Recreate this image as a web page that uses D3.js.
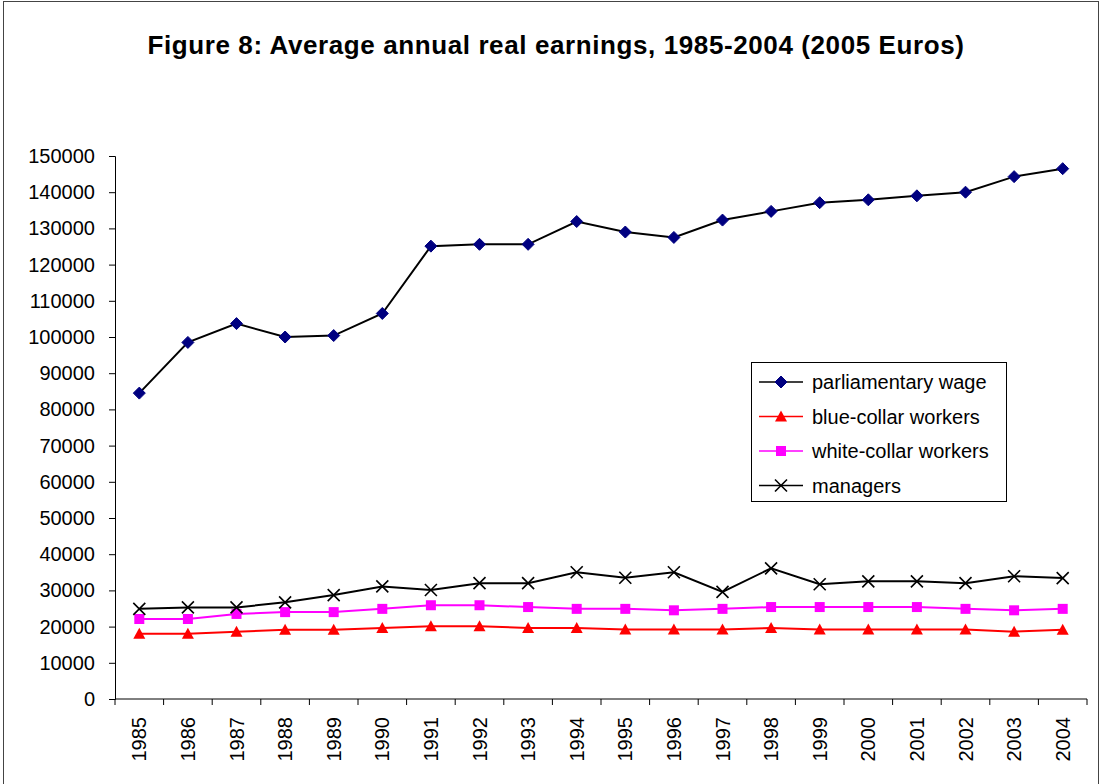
<!DOCTYPE html>
<html>
<head>
<meta charset="utf-8">
<script src="https://cdn.jsdelivr.net/npm/d3@7"></script>
<style>
  body { margin: 0; background: #fff; }
  text { font-family: Arial, "Liberation Sans", sans-serif; }
</style>
</head>
<body>
<script>
var years = ["1985", "1986", "1987", "1988", "1989", "1990", "1991", "1992", "1993", "1994",
             "1995", "1996", "1997", "1998", "1999", "2000", "2001", "2002", "2003", "2004"];

var parliamentary = [84500, 98500, 103700, 100000, 100400, 106500, 125100, 125600, 125600, 131900,
                     129000, 127500, 132300, 134700, 137100, 137900, 139000, 140000, 144300, 146500];
var blueCollar = [18000, 18000, 18600, 19100, 19100, 19600, 20100, 20100, 19600, 19600,
                  19200, 19200, 19200, 19600, 19200, 19200, 19200, 19200, 18600, 19100];
var whiteCollar = [22100, 22100, 23500, 24000, 24000, 24900, 25900, 25900, 25400, 24900,
                   24900, 24500, 24900, 25400, 25400, 25400, 25400, 24900, 24500, 24900];
var managers = [24900, 25300, 25300, 26700, 28700, 31100, 30100, 32000, 32000, 35000,
                33500, 35000, 29600, 36100, 31700, 32500, 32500, 32000, 33900, 33400];

var yTicks = d3.range(0, 150001, 10000);

var series = [
  {name: "parliamentary wage", values: parliamentary, line: "#000", fill: "#000080", symbol: "diamond"},
  {name: "blue-collar workers", values: blueCollar, line: "#ff0000", fill: "#ff0000", symbol: "triangle"},
  {name: "white-collar workers", values: whiteCollar, line: "#ff00ff", fill: "#ff00ff", symbol: "square"},
  {name: "managers", values: managers, line: "#000", fill: "none", symbol: "cross"}
];

var width = 1104, height = 784;
var plotLeft = 115, plotRight = 1087, plotTop = 156, plotBottom = 699;

var svg = d3.select("body").append("svg")
    .attr("width", width)
    .attr("height", height);

// outer frame
svg.append("rect")
    .attr("x", 3.5).attr("y", 1.5)
    .attr("width", 1095).attr("height", 800)
    .attr("fill", "none")
    .attr("stroke", "#444")
    .attr("stroke-width", 1);

svg.append("text")
    .attr("x", 556)
    .attr("y", 54)
    .attr("text-anchor", "middle")
    .style("font-size", "26px")
    .style("font-weight", "bold")
    .style("letter-spacing", "0.6px")
    .text("Figure 8:  Average annual real earnings, 1985-2004 (2005 Euros)");

var x = d3.scaleBand().domain(years).range([plotLeft, plotRight]).padding(0);
var y = d3.scaleLinear().domain([0, 150000]).range([plotBottom, plotTop]);

// y axis
var yAxis = svg.append("g")
    .attr("transform", "translate(" + plotLeft + ",0)")
    .call(d3.axisLeft(y).tickValues(yTicks).tickSize(6).tickPadding(14).tickFormat(d3.format("d")));
yAxis.selectAll("text").style("font-size", "20px").attr("fill", "#000");
yAxis.selectAll("line, path").attr("stroke", "#000");

// x axis: ticks on category boundaries
var xg = svg.append("g").attr("transform", "translate(0," + plotBottom + ")");
xg.append("line")
    .attr("x1", plotLeft).attr("x2", plotRight)
    .attr("stroke", "#000");
xg.selectAll(".tk")
    .data(years.concat(["end"]))
  .enter().append("line")
    .attr("x1", function(d, i) { return plotLeft + i * x.step(); })
    .attr("x2", function(d, i) { return plotLeft + i * x.step(); })
    .attr("y1", 0).attr("y2", 6)
    .attr("stroke", "#000");
xg.selectAll(".lab")
    .data(years)
  .enter().append("text")
    .attr("transform", function(d) {
      return "translate(" + (x(d) + x.bandwidth() / 2 + 7) + ",18)rotate(-90)";
    })
    .attr("text-anchor", "end")
    .style("font-size", "20px")
    .text(function(d) { return d; });

var cx = function(i) { return x(years[i]) + x.bandwidth() / 2; };

var line = d3.line()
    .x(function(d, i) { return cx(i); })
    .y(function(d) { return y(d); });

function marker(g, s) {
  if (s.symbol === "diamond") {
    g.append("path").attr("d", "M0,-6L6,0L0,6L-6,0Z").attr("fill", s.fill).attr("stroke", s.fill);
  } else if (s.symbol === "triangle") {
    g.append("path").attr("d", "M0,-6L6,5L-6,5Z").attr("fill", s.fill);
  } else if (s.symbol === "square") {
    g.append("rect").attr("x", -5).attr("y", -5).attr("width", 10).attr("height", 10).attr("fill", s.fill);
  } else {
    g.append("path").attr("d", "M-6,-6L6,6M-6,6L6,-6").attr("stroke", "#000").attr("stroke-width", 1.6);
  }
}

series.forEach(function(s) {
  svg.append("path")
      .datum(s.values)
      .attr("d", line)
      .attr("fill", "none")
      .attr("stroke", s.line)
      .attr("stroke-width", 2);
  s.values.forEach(function(v, i) {
    var g = svg.append("g").attr("transform", "translate(" + cx(i) + "," + y(v) + ")");
    marker(g, s);
  });
});

// legend
var lg = svg.append("g").attr("transform", "translate(751,362)");
lg.append("rect")
    .attr("x", 0.5).attr("y", 0.5)
    .attr("width", 255).attr("height", 139)
    .attr("fill", "#fff")
    .attr("stroke", "#000");
series.forEach(function(s, i) {
  var yy = 20 + i * 34.5;
  lg.append("line")
      .attr("x1", 8).attr("x2", 52)
      .attr("y1", yy).attr("y2", yy)
      .attr("stroke", s.line)
      .attr("stroke-width", 1.5);
  var g = lg.append("g").attr("transform", "translate(30," + yy + ")");
  marker(g, s);
  lg.append("text")
      .attr("x", 61)
      .attr("y", yy)
      .attr("dy", "0.35em")
      .style("font-size", "20px")
      .text(s.name);
});
</script>
</body>
</html>
